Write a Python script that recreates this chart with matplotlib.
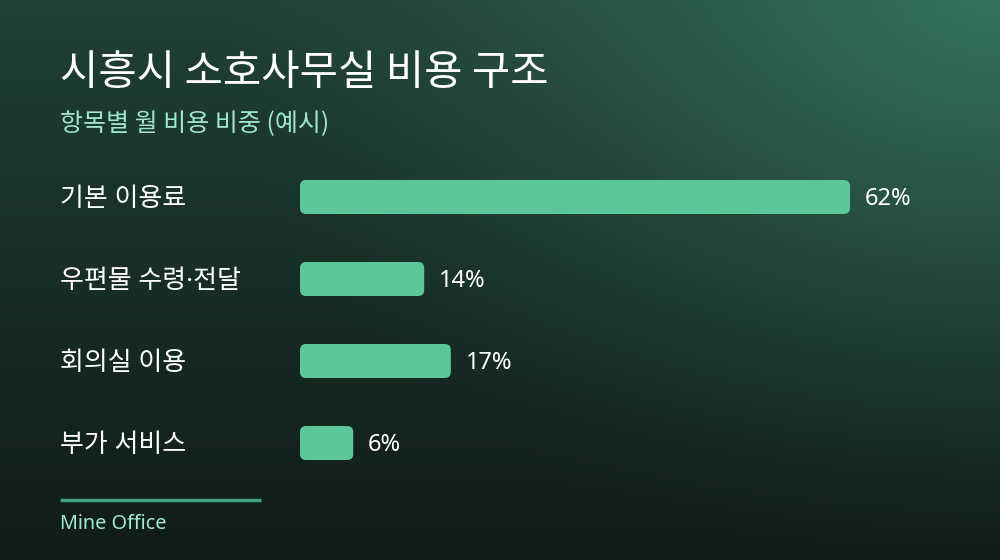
import numpy as np
import matplotlib
matplotlib.use('Agg')
import matplotlib.pyplot as plt
from matplotlib.patches import FancyBboxPatch

plt.rcParams['font.family'] = ['Noto Sans CJK KR', 'DejaVu Sans']
latin = ['Noto Sans', 'Noto Sans CJK KR']

title = "시흥시 소호사무실 비용 구조"
subtitle = "항목별 월 비용 비중 (예시)"
categories = ["기본 이용료", "우편물 수령·전달", "회의실 이용", "부가 서비스"]
shares = [62, 14, 17, 6]
source = "Mine Office"

W, H = 1000, 560
fig = plt.figure(figsize=(10, 5.6), dpi=100)

# background: vertical dark-green gradient with a glow at top right
bg = fig.add_axes([0, 0, 1, 1])
yy, xx = np.mgrid[0:H, 0:W]
top = np.array([0x21, 0x42, 0x36]) / 255
bottom = np.array([0x10, 0x1c, 0x17]) / 255
v = (yy / H) ** 0.9
img = top + (bottom - top) * v[..., None]
d = np.sqrt((xx - 1000) ** 2 + (yy + 20) ** 2 * 1.8) / 800
glow = np.clip(1 - d, 0, 1) ** 1.4
light = np.array([0x36, 0x74, 0x5d]) / 255
img = img + (light - img) * glow[..., None]
bg.imshow(img, extent=[0, W, H, 0], aspect='auto')
bg.set_xlim(0, W)
bg.set_ylim(H, 0)
bg.axis('off')

bg.text(60, 74, title, color='white', fontsize=30, va='center', ha='left')
bg.text(60, 124, subtitle, color='#9fe6cf', fontsize=18, va='center', ha='left')
bg.plot([60, 261], [500, 500], color='#3f9e80', lw=2.5, solid_capstyle='butt')
bg.text(60, 524, source, color='#a3e8d2', fontsize=14.3, va='center', ha='left',
        family=latin)

# bar axes: x from 300px to 1000px, rows 82px apart
px_per_pct = 550 / 62
ax = fig.add_axes([300 / W, 1 - 484 / H, 700 / W, 328 / H])
ax.set_xlim(0, 700 / px_per_pct)
ax.set_ylim(3.5, -0.5)
ax.axis('off')

bar_h = 34 / 82
aspect = px_per_pct / 82
for i, (cat, v) in enumerate(zip(categories, shares)):
    p = FancyBboxPatch((0, i - bar_h / 2), v, bar_h,
                       boxstyle="round,pad=0,rounding_size=%f" % (6 / px_per_pct),
                       mutation_aspect=aspect, fc='#5cc79b', ec='none')
    ax.add_patch(p)
    ax.text(v + 15 / px_per_pct, i + 2 / 82, f"{v}%", color='white', fontsize=17,
            va='center', ha='left', family=latin)
    bg.text(60, 199 + 82 * i, cat, color='white', fontsize=18.7,
            va='center', ha='left', family=latin)

fig.savefig('out.png', dpi=100)
